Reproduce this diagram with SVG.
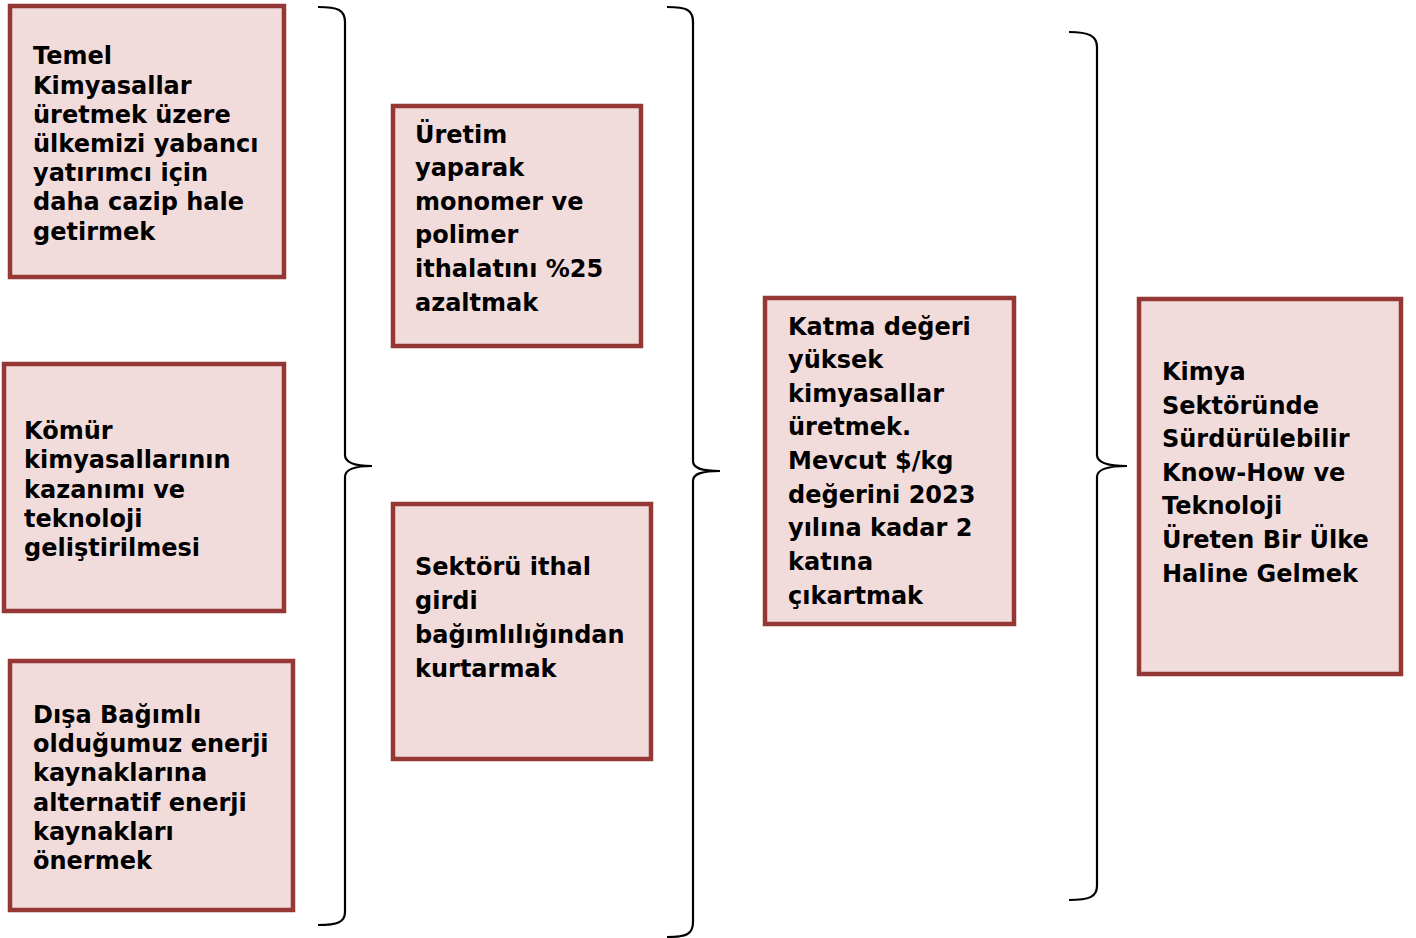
<svg xmlns="http://www.w3.org/2000/svg" width="1416" height="938" viewBox="0 0 1416 938">
<style>
.box{fill:#F2DCDB;stroke:#953735;stroke-width:4.5}
.t{font-family:"DejaVu Sans","Verdana",sans-serif;font-weight:bold;font-size:24px;fill:#000}
.br{fill:none;stroke:#000;stroke-width:2.2}
</style>
<rect width="1416" height="938" fill="#fff"/>
<g id="connectors">
<path class="br" d="M318,7 C338,7 345,10 345,22 L345,455 C345,462 353,466 372,466 C353,466 345,470 345,477 L345,912 C345,922 338,925 318,925"/>
<path class="br" d="M667,7 C687,7 693,10 693,22 L693,461 C693,468 701,471 720,471 C701,471 693,474 693,481 L693,922 C693,934 687,937 667,937"/>
<path class="br" d="M1069,32 C1089,32 1097,36 1097,47 L1097,455 C1097,462 1106,466 1127,466 C1106,466 1097,470 1097,477 L1097,886 C1097,897 1089,900 1069,900"/>
</g>
<g id="n1">
<rect class="box" x="10" y="6" width="274" height="271"/>
<text class="t" x="33" y="64">Temel</text>
<text class="t" x="33" y="94">Kimyasallar</text>
<text class="t" x="33" y="123">üretmek üzere</text>
<text class="t" x="33" y="152">ülkemizi yabancı</text>
<text class="t" x="33" y="181">yatırımcı için</text>
<text class="t" x="33" y="210">daha cazip hale</text>
<text class="t" x="33" y="240">getirmek</text>
</g>
<g id="n2">
<rect class="box" x="4" y="364" width="280" height="247"/>
<text class="t" x="24" y="439">Kömür</text>
<text class="t" x="24" y="468">kimyasallarının</text>
<text class="t" x="24" y="498">kazanımı ve</text>
<text class="t" x="24" y="527">teknoloji</text>
<text class="t" x="24" y="556">geliştirilmesi</text>
</g>
<g id="n3">
<rect class="box" x="10" y="661" width="283" height="249"/>
<text class="t" x="33" y="723">Dışa Bağımlı</text>
<text class="t" x="33" y="752">olduğumuz enerji</text>
<text class="t" x="33" y="781">kaynaklarına</text>
<text class="t" x="33" y="811">alternatif enerji</text>
<text class="t" x="33" y="840">kaynakları</text>
<text class="t" x="33" y="869">önermek</text>
</g>
<g id="n4">
<rect class="box" x="393" y="106" width="248" height="240"/>
<text class="t" x="415" y="143">Üretim</text>
<text class="t" x="415" y="176">yaparak</text>
<text class="t" x="415" y="210">monomer ve</text>
<text class="t" x="415" y="243">polimer</text>
<text class="t" x="415" y="277">ithalatını %25</text>
<text class="t" x="415" y="311">azaltmak</text>
</g>
<g id="n5">
<rect class="box" x="393" y="504" width="258" height="255"/>
<text class="t" x="415" y="575">Sektörü ithal</text>
<text class="t" x="415" y="609">girdi</text>
<text class="t" x="415" y="643">bağımlılığından</text>
<text class="t" x="415" y="677">kurtarmak</text>
</g>
<g id="n6">
<rect class="box" x="765" y="298" width="249" height="326"/>
<text class="t" x="788" y="335">Katma değeri</text>
<text class="t" x="788" y="368">yüksek</text>
<text class="t" x="788" y="402">kimyasallar</text>
<text class="t" x="788" y="435">üretmek.</text>
<text class="t" x="788" y="469">Mevcut $/kg</text>
<text class="t" x="788" y="503">değerini 2023</text>
<text class="t" x="788" y="536">yılına kadar 2</text>
<text class="t" x="788" y="570">katına</text>
<text class="t" x="788" y="604">çıkartmak</text>
</g>
<g id="n7">
<rect class="box" x="1139" y="299" width="262" height="375"/>
<text class="t" x="1162" y="380">Kimya</text>
<text class="t" x="1162" y="414">Sektöründe</text>
<text class="t" x="1162" y="447">Sürdürülebilir</text>
<text class="t" x="1162" y="481">Know-How ve</text>
<text class="t" x="1162" y="514">Teknoloji</text>
<text class="t" x="1162" y="548">Üreten Bir Ülke</text>
<text class="t" x="1162" y="582">Haline Gelmek</text>
</g>
</svg>
